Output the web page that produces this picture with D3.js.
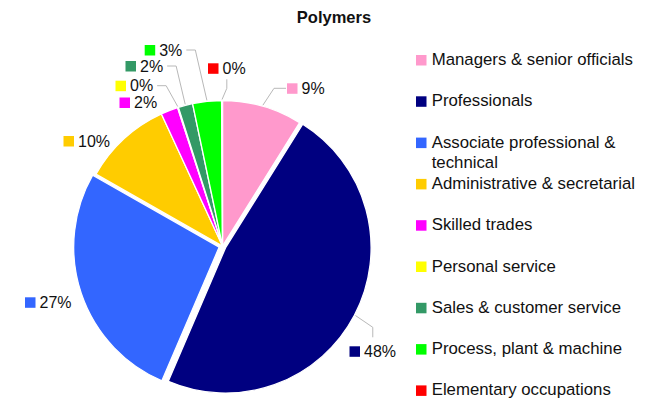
<!DOCTYPE html>
<html>
<head>
<meta charset="utf-8">
<script src="https://cdn.jsdelivr.net/npm/d3@7"></script>
<style>
  html, body { margin: 0; padding: 0; background: #fff; }
  svg { display: block; font-family: "Liberation Sans", Arial, sans-serif; }
</style>
</head>
<body>
<svg id="chart" width="656" height="401"></svg>
<script>
// Occupational breakdown of the polymers workforce (percent)
const title = "Polymers";
const categories = [
  "Managers & senior officials",
  "Professionals",
  "Associate professional & technical",
  "Administrative & secretarial",
  "Skilled trades",
  "Personal service",
  "Sales & customer service",
  "Process, plant & machine",
  "Elementary occupations"
];
const values = [8.9, 47.6, 26.8, 9.9, 1.9, 0.1, 1.6, 3.2, 0.1];
const colors = ["#FF99CC", "#000080", "#3366FF", "#FFCC00", "#FF00FF", "#FFFF00", "#339966", "#00FF00", "#FF0000"];
const exploded = ["Professionals", "Associate professional & technical"];

// Data-label placement: key square left edge, key square centre, leader side
const labelLayout = [
  { x: 287,   cy: 88.3,  leader: "left" },
  { x: 349.5, cy: 351.3, leader: "top" },
  { x: 25,    cy: 302.3, leader: null },
  { x: 63.5,  cy: 141,   leader: null },
  { x: 119.5, cy: 102.5, leader: null },
  { x: 115.5, cy: 85.7,  leader: "right" },
  { x: 125.5, cy: 66,    leader: "right" },
  { x: 144.7, cy: 50,    leader: "right" },
  { x: 208,   cy: 68.3,  leader: "bottom" }
];

const svg = d3.select("#chart");
const cx = 222.5, cy = 246, radius = 145.5, explodeBy = 3.5;
const total = d3.sum(values);
const pct = v => Math.round(v / total * 100) + "%";

const data = categories.map((c, i) => ({ name: c, value: values[i], color: colors[i], i }));
const pie = d3.pie().sort(null).value(d => d.value).startAngle(0).endAngle(2 * Math.PI);
const arcs = pie(data);
const arc = d3.arc().innerRadius(0).outerRadius(radius);

const offsetOf = a => {
  if (!exploded.includes(a.data.name)) return [0, 0];
  const m = (a.startAngle + a.endAngle) / 2;
  return [Math.sin(m) * explodeBy, -Math.cos(m) * explodeBy];
};

// Title
svg.append("text")
  .attr("x", 334).attr("y", 23)
  .attr("text-anchor", "middle")
  .attr("font-size", 16.5).attr("font-weight", "bold").attr("fill", "#111")
  .text(title);

// Slices
const g = svg.append("g").attr("transform", `translate(${cx},${cy})`);
g.selectAll("path.slice")
  .data(arcs)
  .join("path")
  .attr("class", "slice")
  .attr("transform", a => { const o = offsetOf(a); return `translate(${o[0]},${o[1]})`; })
  .attr("d", arc)
  .attr("fill", a => a.data.color)
  .attr("stroke", "#fff")
  .attr("stroke-width", 1.3)
  .attr("stroke-linejoin", "round");

// Data labels with key squares
const labels = svg.append("g");
const leaders = svg.append("g");
arcs.forEach((a, i) => {
  const L = labelLayout[i];
  const lg = labels.append("g");
  lg.append("rect")
    .attr("x", L.x).attr("y", L.cy - 5)
    .attr("width", 10.5).attr("height", 10.5)
    .attr("fill", a.data.color);
  const t = lg.append("text")
    .attr("x", L.x + 14.5).attr("y", L.cy + 5.5)
    .attr("font-size", 16).attr("fill", "#111")
    .text(pct(a.data.value));
  if (!L.leader) return;
  const textRight = L.x + 14.5 + t.node().getComputedTextLength();
  const m = (a.startAngle + a.endAngle) / 2;
  const o = offsetOf(a);
  const start = [cx + o[0] + Math.sin(m) * (radius + 1), cy + o[1] - Math.cos(m) * (radius + 1)];
  let pts;
  if (L.leader === "left") {
    pts = [start, [L.x - 13, L.cy], [L.x - 1, L.cy]];
  } else if (L.leader === "right") {
    pts = [start, [textRight + 13, L.cy], [textRight + 4, L.cy]];
  } else if (L.leader === "top") {
    const mx = (L.x + textRight) / 2;
    pts = [start, [mx, L.cy - 24], [mx, L.cy - 14]];
  } else {
    const mx = (L.x + textRight) / 2;
    pts = [start, [mx, L.cy + 20], [mx, L.cy + 11]];
  }
  leaders.append("path")
    .attr("d", d3.line()(pts))
    .attr("fill", "none")
    .attr("stroke", "#b8b8b8")
    .attr("stroke-width", 1);
});

// Legend
const legend = svg.append("g");
const legendX = 416, legendTextX = 431.7, legendTop = 65, legendStep = 41.3, legendMaxW = 210;
data.forEach((d, i) => {
  const base = legendTop + i * legendStep;
  legend.append("rect")
    .attr("x", legendX).attr("y", base - 10)
    .attr("width", 10.5).attr("height", 10.5)
    .attr("fill", d.color);
  const t = legend.append("text")
    .attr("x", legendTextX).attr("y", base)
    .attr("font-size", 16.8).attr("fill", "#111");
  // simple word wrap
  const words = d.name.split(" ");
  let line = [], lineNo = 0;
  let tspan = t.append("tspan").attr("x", legendTextX).attr("dy", 0);
  words.forEach(w => {
    line.push(w);
    tspan.text(line.join(" "));
    if (tspan.node().getComputedTextLength() > legendMaxW && line.length > 1) {
      line.pop();
      tspan.text(line.join(" "));
      line = [w];
      lineNo++;
      tspan = t.append("tspan").attr("x", legendTextX).attr("dy", 20).text(w);
    }
  });
});
</script>
</body>
</html>
